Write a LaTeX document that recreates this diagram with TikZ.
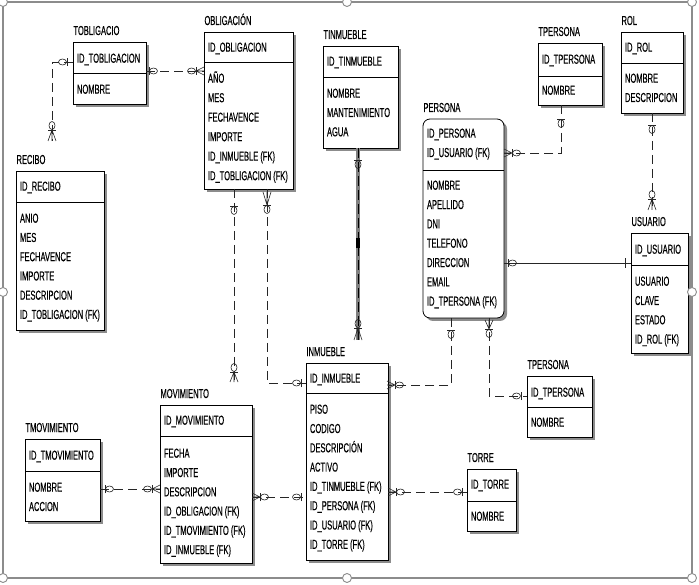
\documentclass[tikz,border=0pt]{standalone}
\usepackage{fontspec}
\setmainfont{Liberation Sans}[FakeStretch=0.58, FakeBold=0.35]

\tikzset{
  entbox/.style={draw=black, line width=0.8pt, fill=white, inner sep=0pt, outer sep=0pt},
  ershadow/.style={fill=black!45},
  entline/.style={draw=black, line width=0.8pt},
  txt/.style={anchor=base west, inner sep=0pt, outer sep=0pt, text=black, font=\fontsize{13}{15}\selectfont},
  rel/.style={draw=black!85, line width=0.7pt, dash pattern=on 9pt off 5pt},
  solidrel/.style={draw=black!85, line width=0.7pt},
  mk/.style={draw=black!85, line width=0.6pt},
  awayR/.style={x={(1pt,0pt)}, y={(0pt,1pt)}},
  awayL/.style={x={(-1pt,0pt)}, y={(0pt,1pt)}},
  awayD/.style={x={(0pt,-1pt)}, y={(1pt,0pt)}},
  awayU/.style={x={(0pt,1pt)}, y={(1pt,0pt)}},
  pics/onemk/.style={code={
    \draw[mk] (0,-4) -- (0,4);
    \draw[mk] (4.5,0) ellipse [x radius=4, y radius=3];}},
  pics/manymk/.style={code={
    \draw[mk] (-#1,-4) -- (0,0) -- (-#1,4) (-#1,0) -- (0,0);
    \draw[mk] (0,-4) -- (0,4);
    \draw[mk] (4.5,0) ellipse [x radius=4, y radius=3];}},
  pics/barmk/.style={code={\draw[mk] (0,-5) -- (0,5);}},
  framehandle/.style={draw=black!45, fill=white, line width=0.9pt},
}

% entity box: [options]{name}{left}{top}{width}{height}{key divider offset}{title}
\newcommand{\erbox}[8][]{%
  \fill[ershadow,#1] (#3+3,#4+3) rectangle ++(#5,#6);
  \node[entbox,#1,anchor=north west,minimum width=#5pt,minimum height=#6pt] (#2) at (#3,#4) {};
  \draw[entline] (#3,#4+#7) -- ++(#5,0);
  \node[txt] (#2-title) at (#3+0.5,#4-7) {#8};
}
% rows of attribute text: {prefix}{x}{first centre y}{step}{items}
\newcommand{\errows}[5]{%
  \foreach \rtxt [count=\ri] in {#5} {
    \node[txt] (#1-\ri) at (#2, {#3+(\ri-1)*#4+4.7}) {\rtxt};
  }
}
% relationship end marker: {pic}{direction}{x}{y}
\newcommand{\ermark}[4]{%
  \begin{scope}[shift={(#3,#4)}, #2] \pic {#1}; \end{scope}
}

\begin{document}
\begin{tikzpicture}[x=1pt,y=-1pt]
\useasboundingbox (0,0) rectangle (699,585);
\fill[white] (0,0) rectangle (699,585);

% ---------- entities ----------
\erbox{tob}{73}{42}{73}{62}{31}{TOBLIGACIO}
\errows{tob-k}{77}{58}{19.5}{ID\_TOBLIGACION}
\errows{tob-a}{77}{89}{19.5}{NOMBRE}

\erbox{obl}{204}{32}{89}{157}{30}{OBLIGACIÓN}
\errows{obl-k}{208}{47}{19.5}{ID\_OBLIGACION}
\errows{obl-a}{208}{78}{19.5}{AÑO, MES, FECHAVENCE, IMPORTE, ID\_INMUEBLE (FK), ID\_TOBLIGACION (FK)}

\erbox{rec}{16}{171}{88}{159}{31}{RECIBO}
\errows{rec-k}{20}{186}{19.5}{ID\_RECIBO}
\errows{rec-a}{20}{218}{19.25}{ANIO, MES, FECHAVENCE, IMPORTE, DESCRIPCION, ID\_TOBLIGACION (FK)}

\erbox{tin}{323}{46}{75}{102}{31}{TINMUEBLE}
\errows{tin-k}{327}{61}{19.5}{ID\_TINMUEBLE}
\errows{tin-a}{327}{93}{19.3}{NOMBRE, MANTENIMIENTO, AGUA}

\erbox{tpa}{538}{43}{64}{62}{33}{TPERSONA}
\errows{tpa-k}{542}{59}{19.5}{ID\_TPERSONA}
\errows{tpa-a}{542}{90}{19.5}{NOMBRE}

\erbox{rol}{621}{32}{62}{81}{31}{ROL}
\errows{rol-k}{625}{47}{19.5}{ID\_ROL}
\errows{rol-a}{625}{78}{19.3}{NOMBRE, DESCRIPCION}

\erbox[rounded corners=7pt]{per}{423}{119}{81}{199}{51}{PERSONA}
\errows{per-k}{427}{133}{19.3}{ID\_PERSONA, ID\_USUARIO (FK)}
\errows{per-a}{427}{185}{19.33}{NOMBRE, APELLIDO, DNI, TELEFONO, DIRECCION, EMAIL, ID\_TPERSONA (FK)}

\erbox{usu}{631}{233}{57}{120}{32}{USUARIO}
\errows{usu-k}{635}{249}{19.5}{ID\_USUARIO}
\errows{usu-a}{635}{281}{19.3}{USUARIO, CLAVE, ESTADO, ID\_ROL (FK)}

\erbox{inm}{306}{363}{82}{197}{30}{INMUEBLE}
\errows{inm-k}{310}{378}{19.5}{ID\_INMUEBLE}
\errows{inm-a}{310}{409}{19.3}{PISO, CODIGO, DESCRIPCIÓN, ACTIVO, ID\_TINMUEBLE (FK), ID\_PERSONA (FK), ID\_USUARIO (FK), ID\_TORRE (FK)}

\erbox{tpb}{527}{376}{65}{61}{31}{TPERSONA}
\errows{tpb-k}{531}{392}{19.5}{ID\_TPERSONA}
\errows{tpb-a}{531}{422}{19.5}{NOMBRE}

\erbox{tor}{467}{469}{49}{62}{32}{TORRE}
\errows{tor-k}{471}{484}{19.5}{ID\_TORRE}
\errows{tor-a}{471}{516}{19.5}{NOMBRE}

\erbox{mov}{160}{405}{92}{158}{31}{MOVIMIENTO}
\errows{mov-k}{164}{420}{19.5}{ID\_MOVIMIENTO}
\errows{mov-a}{164}{453}{19.3}{FECHA, IMPORTE, DESCRIPCION, ID\_OBLIGACION (FK), ID\_TMOVIMIENTO (FK), ID\_INMUEBLE (FK)}

\erbox{tmo}{25}{439}{75}{82}{32}{TMOVIMIENTO}
\errows{tmo-k}{29}{455}{19.5}{ID\_TMOVIMIENTO}
\errows{tmo-a}{29}{487}{19.3}{NOMBRE, ACCION}

% ---------- free ends of relationships (above entity titles) ----------
\coordinate (recin) at (52,141);
\coordinate (movin) at (234,382);
\coordinate (tinin) at (358,340);
\coordinate (usuin) at (652,210);

% ---------- relationships ----------
% TOBLIGACIO - OBLIGACION
\draw[rel] (tob.east |- 0,71) -- (obl.west |- 0,71);
\ermark{onemk}{awayR}{149}{71}
\ermark{manymk=8}{awayL}{196}{71}

% TOBLIGACIO - RECIBO
\draw[rel] (tob.west |- 0,62) -| (recin);
\ermark{onemk}{awayL}{67}{62}
\ermark{manymk=11}{awayU}{52}{130}

% OBLIGACION - INMUEBLE
\draw[rel] (obl.south -| 267,0) |- (inm.west |- 0,383);
\ermark{manymk=13}{awayD}{267}{205}
\ermark{onemk}{awayL}{301}{383}

% OBLIGACION - MOVIMIENTO
\draw[rel] (obl.south -| 234,0) -- (movin);
\ermark{onemk}{awayD}{234}{206}
\ermark{manymk=10}{awayU}{234}{372}

% TMOVIMIENTO - MOVIMIENTO
\draw[rel] (tmo.east |- 0,489) -- (mov.west |- 0,489);
\ermark{onemk}{awayR}{105}{489}
\ermark{manymk=8}{awayL}{152}{489}

% MOVIMIENTO - INMUEBLE
\draw[rel] (mov.east |- 0,497) -- (inm.west |- 0,497);
\ermark{manymk=8}{awayR}{260}{497}
\ermark{onemk}{awayL}{301}{497}

% INMUEBLE - TORRE
\draw[rel] (inm.east |- 0,492) -- (tor.west |- 0,492);
\ermark{manymk=8}{awayR}{396}{492}
\ermark{onemk}{awayL}{462}{492}

% TINMUEBLE - INMUEBLE (highlighted)
\draw[black!50, line width=4pt] (tin.south -| 358,0) -- (tinin);
\draw[black, line width=0.5pt, dash pattern=on 10pt off 4pt] (tin.south -| 358,0) -- (tinin);
\fill[black] (356,238) rectangle (360,248);
\ermark{onemk}{awayD}{358}{160}
\ermark{manymk=12}{awayU}{358}{328}

% PERSONA - INMUEBLE
\draw[rel] (per.south -| 451,0) |- (inm.east |- 0,385);
\ermark{onemk}{awayD}{451}{330}
\ermark{manymk=8}{awayR}{395}{385}

% PERSONA - TPERSONA (lower)
\draw[rel] (per.south -| 489,0) |- (tpb.west |- 0,396);
\ermark{manymk=9}{awayD}{489}{329}
\ermark{onemk}{awayL}{521}{396}

% TPERSONA (upper) - PERSONA
\draw[rel] (tpa.south -| 561,0) |- (per.east |- 0,153);
\ermark{onemk}{awayD}{561}{119}
\ermark{manymk=8}{awayR}{512}{153}

% ROL - USUARIO
\draw[rel] (rol.south -| 652,0) -- (usuin);
\ermark{onemk}{awayD}{652}{125}
\ermark{manymk=11}{awayU}{652}{199}

% USUARIO - PERSONA (identifying)
\draw[solidrel] (per.east |- 0,263) -- (usu.west |- 0,263);
\ermark{onemk}{awayR}{508}{263}
\ermark{barmk}{awayL}{625}{263}

% ---------- selection frame with handles ----------
\draw[black!45, line width=1.1pt] (3,2) rectangle (692,578);
\foreach \hx/\hy in {3/2, 347/2, 692/2, 3/292, 692/292, 3/578, 347/578, 692/578}
  \draw[framehandle] (\hx,\hy) circle [radius=4.5];
\end{tikzpicture}
\end{document}
